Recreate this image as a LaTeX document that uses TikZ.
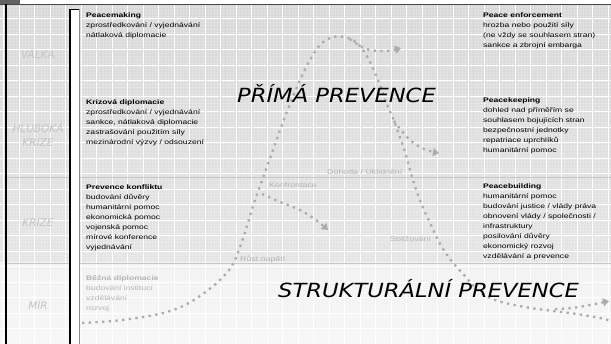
\documentclass[tikz,border=0pt]{standalone}
\usepackage{fontspec}
\usetikzlibrary{arrows.meta}
\newfontfamily\bodyfont[FakeStretch=1.3]{Liberation Sans}
\newfontfamily\titlefont[FakeStretch=1.16]{DejaVu Sans}
\newfontfamily\sidefont{DejaVu Sans}
\definecolor{bgtop}{HTML}{D8D8D8}
\definecolor{bgmid}{HTML}{E4E4E4}
\definecolor{bglow}{HTML}{F1F1F1}
\definecolor{dotc}{HTML}{ABABAB}
\definecolor{sidec}{HTML}{C4C4C4}
\definecolor{faintc}{HTML}{B4B4B4}
\definecolor{sepc}{HTML}{C8C8C8}
\tikzset{
  bodytext/.style={anchor=north west, inner sep=0pt, align=left,
    font=\bodyfont\fontsize{6.6}{10}\selectfont, text=black},
  fainttext/.style={bodytext, text=faintc},
  sidelabel/.style={anchor=base, inner sep=0pt, align=center,
    font=\sidefont\itshape\fontsize{10.5}{13}\selectfont, text=sidec},
  curvelabel/.style={anchor=base west, inner sep=0pt,
    font=\bodyfont\fontsize{6.8}{8}\selectfont, text=faintc},
  bigtitle/.style={anchor=base west, inner sep=0pt,
    font=\titlefont\itshape\fontsize{19.5}{22}\selectfont, text=black},
  dotline/.style={draw=dotc, line width=2.3pt, dash pattern=on 2.3pt off 4.4pt},
  dotarrow/.style={dotline, -{Triangle[width=8pt,length=6pt]}},
}
\begin{document}
\begin{tikzpicture}[x=1pt,y=-1pt]
\useasboundingbox (0,0) rectangle (611,344);
% background
\fill[white] (0,0) rectangle (611,344);
\shade[top color=bgtop, bottom color=bgmid] (0,4) rectangle (611,263);
\shade[top color=bglow, bottom color=bglow!60!white] (0,263) rectangle (611,344);
% minor texture
\foreach \i in {0,...,196} {
  \draw[white, opacity=0.18, line width=0.4pt] ({3.5+3.1*\i},4) -- ({3.5+3.1*\i},344);
}
\foreach \j in {0,...,110} {
  \draw[white, opacity=0.18, line width=0.4pt] (0,{4+3.1*\j}) -- (611,{4+3.1*\j});
}
% major grid
\foreach \i in {0,...,39} {
  \draw[white, line width=1pt] ({3.5+15.5*\i},4) -- ({3.5+15.5*\i},344);
}
\foreach \j in {1,...,22} {
  \draw[white, line width=1pt] (0,{3.5+15.5*\j}) -- (611,{3.5+15.5*\j});
}
% band separators
\draw[sepc, line width=0.9pt] (6,177) -- (611,177);
\draw[sepc, line width=0.9pt] (6,263) -- (611,263);
% top border
\fill[white] (0,0) rectangle (611,4);
\fill[black!62] (0,0) rectangle (20,4);
\draw[black!72, line width=1.2pt] (0,4.2) -- (611,4.2);
% left column
\draw[black, line width=2pt] (6,4) -- (6,344);
\fill[white] (70,9.5) rectangle (79.5,344);
\draw[black, line width=1.3pt] (70,344) -- (70,9.5) -- (79.5,9.5);
\draw[black!45, line width=1pt] (79.5,9.5) -- (79.5,344);
% left labels
\node[sidelabel] (valka) at (38,59) {VÁLKA};
\node[sidelabel] (hluboka) at (38,133) {HLUBOKÁ};
\node[sidelabel] (hkrize) at (38,147) {KRIZE};
\node[sidelabel] (krize) at (38,227) {KRIZE};
\node[sidelabel] (mir) at (38,310) {MÍR};
% dotted escalation curve
\draw[dotline] plot[smooth, tension=0.6] coordinates {
  (82,323) (113,321) (143,317) (167,312) (187,304) (207,291) (223,277)
  (233,264) (240,247) (246,229) (255,200) (263,178) (273,150) (283,122)
  (290,104) (300,80) (310,60) (320,45) (333,37) (348,38) (360,46)
  (370,62) (380,85) (388,107) (393,118) (398,132) (405,152) (412,177)
  (418,195) (424,210) (431,225) (439,242) (450,259) (464,275) (480,292)
  (498,301) (525,307) (553,311) (577,314) (600,318) (611,321)};
\draw[dotarrow] plot[smooth, tension=0.6] coordinates {(350,39) (366,49) (386,51) (401,48)};
\draw[dotarrow] plot[smooth, tension=0.6] coordinates {(394,121) (409,139) (424,149) (439,153)};
\draw[dotarrow] plot[smooth, tension=0.6] coordinates {(262,194) (280,202) (300,210) (316,220) (328,230)};
\draw[dotarrow] plot[smooth, tension=0.6] coordinates {(555,309) (572,308) (590,305) (609,301)};
% curve labels
\node[curvelabel] (konf) at (269,188) {Konfrontace};
\node[curvelabel] (dohoda) at (327,175) {Dohoda / Uklidnění};
\node[curvelabel] (rust) at (240,262) {Růst napětí};
\node[curvelabel] (sbliz) at (390,242) {Sbližování};
% titles
\node[bigtitle] (prima) at (237,103) {PŘÍMÁ PREVENCE};
\node[bigtitle] (strukt) at (278,298) {STRUKTURÁLNÍ PREVENCE};
% middle column
\node[bodytext] (peacemaking) at (86,13) {\textbf{Peacemaking}\\
zprostředkování / vyjednávání\\
nátlaková diplomacie};
\node[bodytext] (krizova) at (86,99.5) {\textbf{Krizová diplomacie}\\
zprostředkování / vyjednávání\\
sankce, nátlaková diplomacie\\
zastrašování použitím síly\\
mezinárodní výzvy / odsouzení};
\node[bodytext] (prevence) at (86,184.5) {\textbf{Prevence konfliktu}\\
budování důvěry\\
humanitární pomoc\\
ekonomická pomoc\\
vojenská pomoc\\
mírové konference\\
vyjednávání};
\node[fainttext] (bezna) at (86,275) {\textbf{Běžná diplomacie}\\
budování institucí\\
vzdělávání\\
rozvoj};
% right column
\node[bodytext] (enforcement) at (483,12.5) {\textbf{Peace enforcement}\\
hrozba nebo použití síly\\
(ne vždy se souhlasem stran)\\
sankce a zbrojní embarga};
\node[bodytext] (keeping) at (483,98) {\textbf{Peacekeeping}\\
dohled nad příměřím se\\
souhlasem bojujících stran\\
bezpečnostní jednotky\\
repatriace uprchlíků\\
humanitární pomoc};
\node[bodytext] (building) at (483,183.5) {\textbf{Peacebuilding}\\
humanitární pomoc\\
budování justice / vlády práva\\
obnovení vlády / společnosti /\\
infrastruktury\\
posilování důvěry\\
ekonomický rozvoj\\
vzdělávání a prevence};
\end{tikzpicture}
\end{document}
